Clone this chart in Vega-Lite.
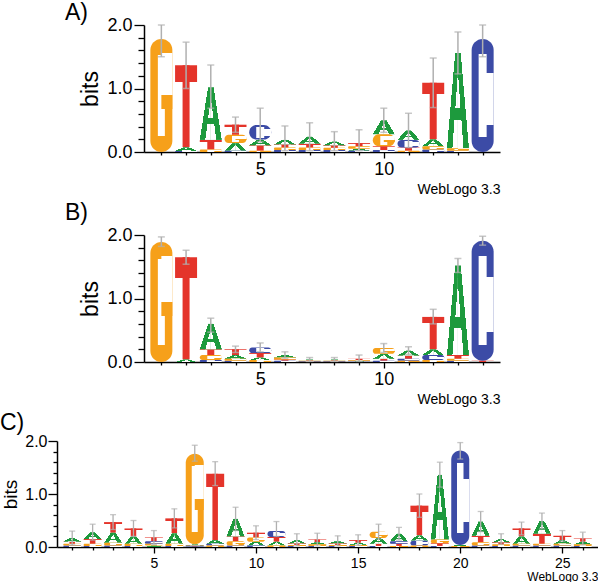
{
  "$schema": "https://vega.github.io/schema/vega-lite/v6.json",
  "background": "white",
  "padding": {"left": 0, "top": 2, "right": 0, "bottom": 0},
  "config": {
    "font": "Liberation Sans",
    "view": {"stroke": null},
    "axis": {"domainColor": "#000000", "tickColor": "#000000", "labelColor": "#000000", "titleColor": "#000000", "titleFontWeight": "normal", "domainWidth": 1.5, "tickWidth": 1.3, "grid": false, "labelFlush": false, "labelOverlap": false},
    "title": {"color": "#000000", "fontWeight": "normal"}
  },
  "datasets": {
    "letters": [
      {"p": "A", "pos": 1, "b": "G", "h": 1.78},
      {"p": "A", "pos": 2, "b": "C", "h": 0.015}, {"p": "A", "pos": 2, "b": "A", "h": 0.06}, {"p": "A", "pos": 2, "b": "T", "h": 1.29},
      {"p": "A", "pos": 3, "b": "G", "h": 0.04}, {"p": "A", "pos": 3, "b": "T", "h": 0.15}, {"p": "A", "pos": 3, "b": "A", "h": 0.83},
      {"p": "A", "pos": 4, "b": "C", "h": 0.02}, {"p": "A", "pos": 4, "b": "A", "h": 0.12}, {"p": "A", "pos": 4, "b": "G", "h": 0.13}, {"p": "A", "pos": 4, "b": "T", "h": 0.16},
      {"p": "A", "pos": 5, "b": "G", "h": 0.02}, {"p": "A", "pos": 5, "b": "T", "h": 0.085}, {"p": "A", "pos": 5, "b": "A", "h": 0.09}, {"p": "A", "pos": 5, "b": "C", "h": 0.23},
      {"p": "A", "pos": 6, "b": "C", "h": 0.03}, {"p": "A", "pos": 6, "b": "G", "h": 0.04}, {"p": "A", "pos": 6, "b": "T", "h": 0.05}, {"p": "A", "pos": 6, "b": "A", "h": 0.07},
      {"p": "A", "pos": 7, "b": "C", "h": 0.03}, {"p": "A", "pos": 7, "b": "G", "h": 0.04}, {"p": "A", "pos": 7, "b": "T", "h": 0.06}, {"p": "A", "pos": 7, "b": "A", "h": 0.11},
      {"p": "A", "pos": 8, "b": "C", "h": 0.03}, {"p": "A", "pos": 8, "b": "G", "h": 0.035}, {"p": "A", "pos": 8, "b": "T", "h": 0.04}, {"p": "A", "pos": 8, "b": "A", "h": 0.06},
      {"p": "A", "pos": 9, "b": "C", "h": 0.02}, {"p": "A", "pos": 9, "b": "A", "h": 0.03}, {"p": "A", "pos": 9, "b": "G", "h": 0.04}, {"p": "A", "pos": 9, "b": "T", "h": 0.05},
      {"p": "A", "pos": 10, "b": "C", "h": 0.03}, {"p": "A", "pos": 10, "b": "T", "h": 0.06}, {"p": "A", "pos": 10, "b": "G", "h": 0.19}, {"p": "A", "pos": 10, "b": "A", "h": 0.22},
      {"p": "A", "pos": 11, "b": "G", "h": 0.02}, {"p": "A", "pos": 11, "b": "T", "h": 0.05}, {"p": "A", "pos": 11, "b": "C", "h": 0.12}, {"p": "A", "pos": 11, "b": "A", "h": 0.15},
      {"p": "A", "pos": 12, "b": "C", "h": 0.04}, {"p": "A", "pos": 12, "b": "G", "h": 0.05}, {"p": "A", "pos": 12, "b": "A", "h": 0.11}, {"p": "A", "pos": 12, "b": "T", "h": 0.89},
      {"p": "A", "pos": 13, "b": "C", "h": 0.02}, {"p": "A", "pos": 13, "b": "G", "h": 0.04}, {"p": "A", "pos": 13, "b": "A", "h": 1.5},
      {"p": "A", "pos": 14, "b": "C", "h": 1.78},

      {"p": "B", "pos": 1, "b": "G", "h": 1.89},
      {"p": "B", "pos": 2, "b": "A", "h": 0.04}, {"p": "B", "pos": 2, "b": "T", "h": 1.61},
      {"p": "B", "pos": 3, "b": "C", "h": 0.03}, {"p": "B", "pos": 3, "b": "G", "h": 0.08}, {"p": "B", "pos": 3, "b": "T", "h": 0.09}, {"p": "B", "pos": 3, "b": "A", "h": 0.4},
      {"p": "B", "pos": 4, "b": "C", "h": 0.02}, {"p": "B", "pos": 4, "b": "G", "h": 0.03}, {"p": "B", "pos": 4, "b": "A", "h": 0.06}, {"p": "B", "pos": 4, "b": "T", "h": 0.09},
      {"p": "B", "pos": 5, "b": "G", "h": 0.03}, {"p": "B", "pos": 5, "b": "A", "h": 0.04}, {"p": "B", "pos": 5, "b": "T", "h": 0.07}, {"p": "B", "pos": 5, "b": "C", "h": 0.09},
      {"p": "B", "pos": 6, "b": "C", "h": 0.02}, {"p": "B", "pos": 6, "b": "T", "h": 0.02}, {"p": "B", "pos": 6, "b": "G", "h": 0.03}, {"p": "B", "pos": 6, "b": "A", "h": 0.04},
      {"p": "B", "pos": 7, "b": "C", "h": 0.01}, {"p": "B", "pos": 7, "b": "G", "h": 0.01}, {"p": "B", "pos": 7, "b": "T", "h": 0.01}, {"p": "B", "pos": 7, "b": "A", "h": 0.01},
      {"p": "B", "pos": 8, "b": "C", "h": 0.01}, {"p": "B", "pos": 8, "b": "G", "h": 0.01}, {"p": "B", "pos": 8, "b": "T", "h": 0.01}, {"p": "B", "pos": 8, "b": "A", "h": 0.01},
      {"p": "B", "pos": 9, "b": "A", "h": 0.01}, {"p": "B", "pos": 9, "b": "C", "h": 0.01}, {"p": "B", "pos": 9, "b": "G", "h": 0.01}, {"p": "B", "pos": 9, "b": "T", "h": 0.02},
      {"p": "B", "pos": 10, "b": "C", "h": 0.02}, {"p": "B", "pos": 10, "b": "T", "h": 0.03}, {"p": "B", "pos": 10, "b": "A", "h": 0.08}, {"p": "B", "pos": 10, "b": "G", "h": 0.09},
      {"p": "B", "pos": 11, "b": "G", "h": 0.02}, {"p": "B", "pos": 11, "b": "C", "h": 0.03}, {"p": "B", "pos": 11, "b": "T", "h": 0.05}, {"p": "B", "pos": 11, "b": "A", "h": 0.08},
      {"p": "B", "pos": 12, "b": "G", "h": 0.03}, {"p": "B", "pos": 12, "b": "C", "h": 0.08}, {"p": "B", "pos": 12, "b": "A", "h": 0.09}, {"p": "B", "pos": 12, "b": "T", "h": 0.51},
      {"p": "B", "pos": 13, "b": "C", "h": 0.02}, {"p": "B", "pos": 13, "b": "G", "h": 0.03}, {"p": "B", "pos": 13, "b": "T", "h": 0.06}, {"p": "B", "pos": 13, "b": "A", "h": 1.41},
      {"p": "B", "pos": 14, "b": "T", "h": 0.02}, {"p": "B", "pos": 14, "b": "C", "h": 1.89},

      {"p": "C", "pos": 1, "b": "C", "h": 0.03}, {"p": "C", "pos": 1, "b": "G", "h": 0.03}, {"p": "C", "pos": 1, "b": "T", "h": 0.04}, {"p": "C", "pos": 1, "b": "A", "h": 0.07},
      {"p": "C", "pos": 2, "b": "C", "h": 0.02}, {"p": "C", "pos": 2, "b": "G", "h": 0.04}, {"p": "C", "pos": 2, "b": "T", "h": 0.09}, {"p": "C", "pos": 2, "b": "A", "h": 0.13},
      {"p": "C", "pos": 3, "b": "C", "h": 0.03}, {"p": "C", "pos": 3, "b": "G", "h": 0.05}, {"p": "C", "pos": 3, "b": "A", "h": 0.19}, {"p": "C", "pos": 3, "b": "T", "h": 0.2},
      {"p": "C", "pos": 4, "b": "C", "h": 0.02}, {"p": "C", "pos": 4, "b": "G", "h": 0.04}, {"p": "C", "pos": 4, "b": "A", "h": 0.14}, {"p": "C", "pos": 4, "b": "T", "h": 0.15},
      {"p": "C", "pos": 5, "b": "A", "h": 0.03}, {"p": "C", "pos": 5, "b": "G", "h": 0.03}, {"p": "C", "pos": 5, "b": "C", "h": 0.05}, {"p": "C", "pos": 5, "b": "T", "h": 0.07},
      {"p": "C", "pos": 6, "b": "C", "h": 0.02}, {"p": "C", "pos": 6, "b": "G", "h": 0.04}, {"p": "C", "pos": 6, "b": "A", "h": 0.2}, {"p": "C", "pos": 6, "b": "T", "h": 0.28},
      {"p": "C", "pos": 7, "b": "C", "h": 0.01}, {"p": "C", "pos": 7, "b": "T", "h": 0.02}, {"p": "C", "pos": 7, "b": "A", "h": 0.02}, {"p": "C", "pos": 7, "b": "G", "h": 1.71},
      {"p": "C", "pos": 8, "b": "G", "h": 0.03}, {"p": "C", "pos": 8, "b": "C", "h": 0.03}, {"p": "C", "pos": 8, "b": "A", "h": 0.07}, {"p": "C", "pos": 8, "b": "T", "h": 1.25},
      {"p": "C", "pos": 9, "b": "C", "h": 0.03}, {"p": "C", "pos": 9, "b": "G", "h": 0.08}, {"p": "C", "pos": 9, "b": "T", "h": 0.09}, {"p": "C", "pos": 9, "b": "A", "h": 0.33},
      {"p": "C", "pos": 10, "b": "C", "h": 0.03}, {"p": "C", "pos": 10, "b": "A", "h": 0.07}, {"p": "C", "pos": 10, "b": "G", "h": 0.08}, {"p": "C", "pos": 10, "b": "T", "h": 0.09},
      {"p": "C", "pos": 11, "b": "G", "h": 0.03}, {"p": "C", "pos": 11, "b": "A", "h": 0.07}, {"p": "C", "pos": 11, "b": "T", "h": 0.09}, {"p": "C", "pos": 11, "b": "C", "h": 0.11},
      {"p": "C", "pos": 12, "b": "C", "h": 0.02}, {"p": "C", "pos": 12, "b": "G", "h": 0.02}, {"p": "C", "pos": 12, "b": "T", "h": 0.03}, {"p": "C", "pos": 12, "b": "A", "h": 0.06},
      {"p": "C", "pos": 13, "b": "C", "h": 0.02}, {"p": "C", "pos": 13, "b": "G", "h": 0.03}, {"p": "C", "pos": 13, "b": "A", "h": 0.04}, {"p": "C", "pos": 13, "b": "T", "h": 0.05},
      {"p": "C", "pos": 14, "b": "C", "h": 0.02}, {"p": "C", "pos": 14, "b": "G", "h": 0.02}, {"p": "C", "pos": 14, "b": "T", "h": 0.03}, {"p": "C", "pos": 14, "b": "A", "h": 0.04},
      {"p": "C", "pos": 15, "b": "C", "h": 0.02}, {"p": "C", "pos": 15, "b": "G", "h": 0.02}, {"p": "C", "pos": 15, "b": "A", "h": 0.04}, {"p": "C", "pos": 15, "b": "T", "h": 0.05},
      {"p": "C", "pos": 16, "b": "C", "h": 0.02}, {"p": "C", "pos": 16, "b": "T", "h": 0.04}, {"p": "C", "pos": 16, "b": "A", "h": 0.11}, {"p": "C", "pos": 16, "b": "G", "h": 0.12},
      {"p": "C", "pos": 17, "b": "G", "h": 0.02}, {"p": "C", "pos": 17, "b": "T", "h": 0.04}, {"p": "C", "pos": 17, "b": "C", "h": 0.05}, {"p": "C", "pos": 17, "b": "A", "h": 0.14},
      {"p": "C", "pos": 18, "b": "G", "h": 0.03}, {"p": "C", "pos": 18, "b": "C", "h": 0.09}, {"p": "C", "pos": 18, "b": "A", "h": 0.1}, {"p": "C", "pos": 18, "b": "T", "h": 0.56},
      {"p": "C", "pos": 19, "b": "C", "h": 0.02}, {"p": "C", "pos": 19, "b": "T", "h": 0.05}, {"p": "C", "pos": 19, "b": "G", "h": 0.07}, {"p": "C", "pos": 19, "b": "A", "h": 1.22},
      {"p": "C", "pos": 20, "b": "G", "h": 0.02}, {"p": "C", "pos": 20, "b": "A", "h": 0.02}, {"p": "C", "pos": 20, "b": "C", "h": 1.78},
      {"p": "C", "pos": 21, "b": "C", "h": 0.03}, {"p": "C", "pos": 21, "b": "G", "h": 0.06}, {"p": "C", "pos": 21, "b": "T", "h": 0.12}, {"p": "C", "pos": 21, "b": "A", "h": 0.27},
      {"p": "C", "pos": 22, "b": "C", "h": 0.02}, {"p": "C", "pos": 22, "b": "G", "h": 0.03}, {"p": "C", "pos": 22, "b": "T", "h": 0.04}, {"p": "C", "pos": 22, "b": "A", "h": 0.06},
      {"p": "C", "pos": 23, "b": "C", "h": 0.03}, {"p": "C", "pos": 23, "b": "G", "h": 0.03}, {"p": "C", "pos": 23, "b": "A", "h": 0.14}, {"p": "C", "pos": 23, "b": "T", "h": 0.15},
      {"p": "C", "pos": 24, "b": "C", "h": 0.03}, {"p": "C", "pos": 24, "b": "G", "h": 0.03}, {"p": "C", "pos": 24, "b": "T", "h": 0.19}, {"p": "C", "pos": 24, "b": "A", "h": 0.24},
      {"p": "C", "pos": 25, "b": "C", "h": 0.03}, {"p": "C", "pos": 25, "b": "G", "h": 0.03}, {"p": "C", "pos": 25, "b": "A", "h": 0.07}, {"p": "C", "pos": 25, "b": "T", "h": 0.08},
      {"p": "C", "pos": 26, "b": "C", "h": 0.02}, {"p": "C", "pos": 26, "b": "G", "h": 0.03}, {"p": "C", "pos": 26, "b": "A", "h": 0.05}, {"p": "C", "pos": 26, "b": "T", "h": 0.06}
    ],
    "err": [
      {"p": "A", "pos": 1, "lo": 1.5, "hi": 2.0}, {"p": "A", "pos": 2, "lo": 1.0, "hi": 1.73}, {"p": "A", "pos": 3, "lo": 0.69, "hi": 1.37},
      {"p": "A", "pos": 4, "lo": 0.31, "hi": 0.55}, {"p": "A", "pos": 5, "lo": 0.16, "hi": 0.69}, {"p": "A", "pos": 6, "lo": 0.02, "hi": 0.41},
      {"p": "A", "pos": 7, "lo": 0.02, "hi": 0.46}, {"p": "A", "pos": 8, "lo": 0.02, "hi": 0.32}, {"p": "A", "pos": 9, "lo": 0.02, "hi": 0.35},
      {"p": "A", "pos": 10, "lo": 0.31, "hi": 0.69}, {"p": "A", "pos": 11, "lo": 0.07, "hi": 0.61}, {"p": "A", "pos": 12, "lo": 0.7, "hi": 1.48},
      {"p": "A", "pos": 13, "lo": 1.23, "hi": 1.89}, {"p": "A", "pos": 14, "lo": 1.5, "hi": 2.0},
      {"p": "B", "pos": 1, "lo": 1.82, "hi": 1.97}, {"p": "B", "pos": 2, "lo": 1.54, "hi": 1.76}, {"p": "B", "pos": 3, "lo": 0.47, "hi": 0.69},
      {"p": "B", "pos": 4, "lo": 0.15, "hi": 0.25}, {"p": "B", "pos": 5, "lo": 0.16, "hi": 0.3}, {"p": "B", "pos": 6, "lo": 0.06, "hi": 0.16},
      {"p": "B", "pos": 7, "lo": 0.01, "hi": 0.07}, {"p": "B", "pos": 8, "lo": 0.01, "hi": 0.07}, {"p": "B", "pos": 9, "lo": 0.01, "hi": 0.11},
      {"p": "B", "pos": 10, "lo": 0.15, "hi": 0.29}, {"p": "B", "pos": 11, "lo": 0.12, "hi": 0.24}, {"p": "B", "pos": 12, "lo": 0.6, "hi": 0.83},
      {"p": "B", "pos": 13, "lo": 1.41, "hi": 1.63}, {"p": "B", "pos": 14, "lo": 1.84, "hi": 1.98},
      {"p": "C", "pos": 1, "lo": 0.04, "hi": 0.3}, {"p": "C", "pos": 2, "lo": 0.13, "hi": 0.43}, {"p": "C", "pos": 3, "lo": 0.33, "hi": 0.61},
      {"p": "C", "pos": 4, "lo": 0.2, "hi": 0.5}, {"p": "C", "pos": 5, "lo": 0.05, "hi": 0.31}, {"p": "C", "pos": 6, "lo": 0.36, "hi": 0.72},
      {"p": "C", "pos": 7, "lo": 1.62, "hi": 1.92}, {"p": "C", "pos": 8, "lo": 1.16, "hi": 1.61}, {"p": "C", "pos": 9, "lo": 0.31, "hi": 0.75},
      {"p": "C", "pos": 10, "lo": 0.14, "hi": 0.4}, {"p": "C", "pos": 11, "lo": 0.2, "hi": 0.48}, {"p": "C", "pos": 12, "lo": 0.02, "hi": 0.25},
      {"p": "C", "pos": 13, "lo": 0.02, "hi": 0.26}, {"p": "C", "pos": 14, "lo": 0.02, "hi": 0.21}, {"p": "C", "pos": 15, "lo": 0.03, "hi": 0.23},
      {"p": "C", "pos": 16, "lo": 0.15, "hi": 0.43}, {"p": "C", "pos": 17, "lo": 0.13, "hi": 0.37}, {"p": "C", "pos": 18, "lo": 0.56, "hi": 1.0},
      {"p": "C", "pos": 19, "lo": 1.13, "hi": 1.6}, {"p": "C", "pos": 20, "lo": 1.66, "hi": 1.97}, {"p": "C", "pos": 21, "lo": 0.29, "hi": 0.67},
      {"p": "C", "pos": 22, "lo": 0.05, "hi": 0.25}, {"p": "C", "pos": 23, "lo": 0.23, "hi": 0.47}, {"p": "C", "pos": 24, "lo": 0.34, "hi": 0.64},
      {"p": "C", "pos": 25, "lo": 0.11, "hi": 0.31}, {"p": "C", "pos": 26, "lo": 0.04, "hi": 0.28}
    ]
  },
  "concat": [
    {
      "concat": [
        {"width": 1, "height": 1, "data": {"values": []}, "mark": {"type": "point", "opacity": 0}},
        {
          "width": 356, "height": 127,
          "title": {"text": "A)", "anchor": "start", "frame": "group", "dx": -79, "fontSize": 23, "offset": -9},
          "layer": [
            {
              "data": {"name": "letters"},
              "transform": [
                {"filter": "datum.p === 'A'"},
                {"stack": "h", "groupby": ["pos"], "sort": [{"field": "h", "order": "ascending"}], "as": ["y0", "y1"]}
              ],
              "encoding": {
                "x": {"field": "pos", "type": "quantitative", "title": "WebLogo 3.3", "scale": {"domain": [0.5, 14.5], "nice": false, "zero": false},
                  "axis": {"values": [1,2,3,4,5,6,7,8,9,10,11,12,13,14], "tickCount": 100, "labelOverlap": false, "labelExpr": "datum.value % 5 === 0 ? format(datum.value, 'd') : ''", "tickSize": {"condition": {"test": "datum.value % 5 === 0", "value": 6}, "value": 3}, "labelFontSize": 18, "labelPadding": 2, "titleFontSize": 14, "titleAnchor": "end", "titlePadding": 4}},
                "y": {"field": "y0", "type": "quantitative", "title": "bits", "scale": {"domain": [0, 2], "nice": false},
                  "axis": {"values": [0,0.2,0.4,0.6,0.8,1,1.2,1.4,1.6,1.8,2], "tickCount": 100, "labelOverlap": false, "labelExpr": "datum.value % 1 === 0 ? format(datum.value, '.1f') : ''", "tickSize": {"condition": {"test": "datum.value % 1 === 0", "value": 10}, "value": 6}, "labelFontSize": 18, "labelPadding": 2, "titleFontSize": 23, "titlePadding": 4}},
                "y2": {"field": "y1"}
              },
              "layer": [
                {"transform": [{"filter": "datum.b === 'T'"}], "mark": {"type": "bar", "size": 7, "color": "#E4342A"}},
                {"transform": [{"filter": "datum.b === 'T'"}], "mark": {"type": "bar", "size": 22, "color": {"gradient": "linear", "x1": 0, "y1": 0, "x2": 0, "y2": 1, "stops": [{"offset": 0, "color": "#E4342A"}, {"offset": 0.2, "color": "#E4342A"}, {"offset": 0.2, "color": "rgba(255,255,255,0)"}, {"offset": 1, "color": "rgba(255,255,255,0)"}]}}},
                {"transform": [{"filter": "datum.b === 'A'"}], "mark": {"type": "bar", "size": 11, "xOffset": -5.5, "color": {"gradient": "linear", "x1": -1, "y1": 0.25, "x2": 1, "y2": 1.75, "stops": [{"offset": 0, "color": "rgba(255,255,255,0)"}, {"offset": 0.5, "color": "rgba(255,255,255,0)"}, {"offset": 0.5, "color": "#1D9A3D"}, {"offset": 1, "color": "#1D9A3D"}]}}},
                {"transform": [{"filter": "datum.b === 'A'"}], "mark": {"type": "bar", "size": 11, "xOffset": 5.5, "color": {"gradient": "linear", "x1": 2, "y1": 0.25, "x2": 0, "y2": 1.75, "stops": [{"offset": 0, "color": "rgba(255,255,255,0)"}, {"offset": 0.5, "color": "rgba(255,255,255,0)"}, {"offset": 0.5, "color": "#1D9A3D"}, {"offset": 1, "color": "#1D9A3D"}]}}},
                {"transform": [{"filter": "datum.b === 'A'"}], "mark": {"type": "bar", "size": 11, "xOffset": -5.5, "color": {"gradient": "linear", "x1": -0.3, "y1": 0.5, "x2": 1.3, "y2": 1.5, "stops": [{"offset": 0, "color": "rgba(255,255,255,0)"}, {"offset": 0.5, "color": "rgba(255,255,255,0)"}, {"offset": 0.5, "color": "#FFFFFF"}, {"offset": 1, "color": "#FFFFFF"}]}}},
                {"transform": [{"filter": "datum.b === 'A'"}], "mark": {"type": "bar", "size": 11, "xOffset": 5.5, "color": {"gradient": "linear", "x1": 1.3, "y1": 0.5, "x2": -0.3, "y2": 1.5, "stops": [{"offset": 0, "color": "rgba(255,255,255,0)"}, {"offset": 0.5, "color": "rgba(255,255,255,0)"}, {"offset": 0.5, "color": "#FFFFFF"}, {"offset": 1, "color": "#FFFFFF"}]}}},
                {"transform": [{"filter": "datum.b === 'A'"}], "mark": {"type": "bar", "size": 13, "color": {"gradient": "linear", "x1": 0, "y1": 0, "x2": 0, "y2": 1, "stops": [{"offset": 0, "color": "rgba(255,255,255,0)"}, {"offset": 0.58, "color": "rgba(255,255,255,0)"}, {"offset": 0.58, "color": "#1D9A3D"}, {"offset": 0.7, "color": "#1D9A3D"}, {"offset": 0.7, "color": "rgba(255,255,255,0)"}, {"offset": 1, "color": "rgba(255,255,255,0)"}]}}},
                {"transform": [{"filter": "datum.b === 'C'"}], "mark": {"type": "bar", "size": 22, "cornerRadius": 11, "color": "#3C4BA6"}},
                {"transform": [{"filter": "datum.b === 'C'"}], "mark": {"type": "bar", "size": 8, "color": {"gradient": "linear", "x1": 0, "y1": 0, "x2": 0, "y2": 1, "stops": [{"offset": 0, "color": "rgba(255,255,255,0)"}, {"offset": 0.13, "color": "rgba(255,255,255,0)"}, {"offset": 0.13, "color": "#FFFFFF"}, {"offset": 0.87, "color": "#FFFFFF"}, {"offset": 0.87, "color": "rgba(255,255,255,0)"}, {"offset": 1, "color": "rgba(255,255,255,0)"}]}}},
                {"transform": [{"filter": "datum.b === 'C'"}], "mark": {"type": "bar", "size": 11, "xOffset": 5.5, "color": {"gradient": "linear", "x1": 0, "y1": 0, "x2": 0, "y2": 1, "stops": [{"offset": 0, "color": "rgba(255,255,255,0)"}, {"offset": 0.3, "color": "rgba(255,255,255,0)"}, {"offset": 0.3, "color": "#FFFFFF"}, {"offset": 0.76, "color": "#FFFFFF"}, {"offset": 0.76, "color": "rgba(255,255,255,0)"}, {"offset": 1, "color": "rgba(255,255,255,0)"}]}}},
                {"transform": [{"filter": "datum.b === 'G'"}], "mark": {"type": "bar", "size": 22, "cornerRadius": 11, "color": "#F6A01A"}},
                {"transform": [{"filter": "datum.b === 'G'"}], "mark": {"type": "bar", "size": 7, "color": {"gradient": "linear", "x1": 0, "y1": 0, "x2": 0, "y2": 1, "stops": [{"offset": 0, "color": "rgba(255,255,255,0)"}, {"offset": 0.14, "color": "rgba(255,255,255,0)"}, {"offset": 0.14, "color": "#FFFFFF"}, {"offset": 0.86, "color": "#FFFFFF"}, {"offset": 0.86, "color": "rgba(255,255,255,0)"}, {"offset": 1, "color": "rgba(255,255,255,0)"}]}}},
                {"transform": [{"filter": "datum.b === 'G'"}], "mark": {"type": "bar", "size": 11, "xOffset": 5.5, "color": {"gradient": "linear", "x1": 0, "y1": 0, "x2": 0, "y2": 1, "stops": [{"offset": 0, "color": "rgba(255,255,255,0)"}, {"offset": 0.12, "color": "rgba(255,255,255,0)"}, {"offset": 0.12, "color": "#FFFFFF"}, {"offset": 0.5, "color": "#FFFFFF"}, {"offset": 0.5, "color": "rgba(255,255,255,0)"}, {"offset": 1, "color": "rgba(255,255,255,0)"}]}}},
                {"transform": [{"filter": "datum.b === 'G'"}], "mark": {"type": "bar", "size": 11, "xOffset": 5.5, "color": {"gradient": "linear", "x1": 0, "y1": 0, "x2": 0, "y2": 1, "stops": [{"offset": 0, "color": "rgba(255,255,255,0)"}, {"offset": 0.5, "color": "rgba(255,255,255,0)"}, {"offset": 0.5, "color": "#F6A01A"}, {"offset": 0.62, "color": "#F6A01A"}, {"offset": 0.62, "color": "rgba(255,255,255,0)"}, {"offset": 1, "color": "rgba(255,255,255,0)"}]}}}
              ]
            },
            {
              "data": {"name": "err"},
              "transform": [{"filter": "datum.p === 'A'"}],
              "encoding": {"x": {"field": "pos", "type": "quantitative", "title": "WebLogo 3.3"}},
              "layer": [
                {"mark": {"type": "rule", "color": "#B0B0B0", "strokeWidth": 1.5}, "encoding": {"y": {"field": "lo", "type": "quantitative", "title": "bits"}, "y2": {"field": "hi"}}},
                {"mark": {"type": "tick", "orient": "horizontal", "color": "#B0B0B0", "size": 7, "thickness": 1.5}, "encoding": {"y": {"field": "hi", "type": "quantitative", "title": "bits"}}},
                {"mark": {"type": "tick", "orient": "horizontal", "color": "#B0B0B0", "size": 7, "thickness": 1.5}, "encoding": {"y": {"field": "lo", "type": "quantitative", "title": "bits"}}}
              ]
            }
          ]
        }
      ],
      "columns": 2, "spacing": 7, "align": "none"
    },
    {
      "concat": [
        {"width": 1, "height": 1, "data": {"values": []}, "mark": {"type": "point", "opacity": 0}},
        {
          "width": 356, "height": 127,
          "title": {"text": "B)", "anchor": "start", "frame": "group", "dx": -79, "fontSize": 23, "offset": 1},
          "layer": [
            {
              "data": {"name": "letters"},
              "transform": [
                {"filter": "datum.p === 'B'"},
                {"stack": "h", "groupby": ["pos"], "sort": [{"field": "h", "order": "ascending"}], "as": ["y0", "y1"]}
              ],
              "encoding": {
                "x": {"field": "pos", "type": "quantitative", "title": "WebLogo 3.3", "scale": {"domain": [0.5, 14.5], "nice": false, "zero": false},
                  "axis": {"values": [1,2,3,4,5,6,7,8,9,10,11,12,13,14], "tickCount": 100, "labelOverlap": false, "labelExpr": "datum.value % 5 === 0 ? format(datum.value, 'd') : ''", "tickSize": {"condition": {"test": "datum.value % 5 === 0", "value": 6}, "value": 3}, "labelFontSize": 18, "labelPadding": 2, "titleFontSize": 14, "titleAnchor": "end", "titlePadding": 4}},
                "y": {"field": "y0", "type": "quantitative", "title": "bits", "scale": {"domain": [0, 2], "nice": false},
                  "axis": {"values": [0,0.2,0.4,0.6,0.8,1,1.2,1.4,1.6,1.8,2], "tickCount": 100, "labelOverlap": false, "labelExpr": "datum.value % 1 === 0 ? format(datum.value, '.1f') : ''", "tickSize": {"condition": {"test": "datum.value % 1 === 0", "value": 10}, "value": 6}, "labelFontSize": 18, "labelPadding": 2, "titleFontSize": 23, "titlePadding": 4}},
                "y2": {"field": "y1"}
              },
              "layer": [
                {"transform": [{"filter": "datum.b === 'T'"}], "mark": {"type": "bar", "size": 7, "color": "#E4342A"}},
                {"transform": [{"filter": "datum.b === 'T'"}], "mark": {"type": "bar", "size": 22, "color": {"gradient": "linear", "x1": 0, "y1": 0, "x2": 0, "y2": 1, "stops": [{"offset": 0, "color": "#E4342A"}, {"offset": 0.2, "color": "#E4342A"}, {"offset": 0.2, "color": "rgba(255,255,255,0)"}, {"offset": 1, "color": "rgba(255,255,255,0)"}]}}},
                {"transform": [{"filter": "datum.b === 'A'"}], "mark": {"type": "bar", "size": 11, "xOffset": -5.5, "color": {"gradient": "linear", "x1": -1, "y1": 0.25, "x2": 1, "y2": 1.75, "stops": [{"offset": 0, "color": "rgba(255,255,255,0)"}, {"offset": 0.5, "color": "rgba(255,255,255,0)"}, {"offset": 0.5, "color": "#1D9A3D"}, {"offset": 1, "color": "#1D9A3D"}]}}},
                {"transform": [{"filter": "datum.b === 'A'"}], "mark": {"type": "bar", "size": 11, "xOffset": 5.5, "color": {"gradient": "linear", "x1": 2, "y1": 0.25, "x2": 0, "y2": 1.75, "stops": [{"offset": 0, "color": "rgba(255,255,255,0)"}, {"offset": 0.5, "color": "rgba(255,255,255,0)"}, {"offset": 0.5, "color": "#1D9A3D"}, {"offset": 1, "color": "#1D9A3D"}]}}},
                {"transform": [{"filter": "datum.b === 'A'"}], "mark": {"type": "bar", "size": 11, "xOffset": -5.5, "color": {"gradient": "linear", "x1": -0.3, "y1": 0.5, "x2": 1.3, "y2": 1.5, "stops": [{"offset": 0, "color": "rgba(255,255,255,0)"}, {"offset": 0.5, "color": "rgba(255,255,255,0)"}, {"offset": 0.5, "color": "#FFFFFF"}, {"offset": 1, "color": "#FFFFFF"}]}}},
                {"transform": [{"filter": "datum.b === 'A'"}], "mark": {"type": "bar", "size": 11, "xOffset": 5.5, "color": {"gradient": "linear", "x1": 1.3, "y1": 0.5, "x2": -0.3, "y2": 1.5, "stops": [{"offset": 0, "color": "rgba(255,255,255,0)"}, {"offset": 0.5, "color": "rgba(255,255,255,0)"}, {"offset": 0.5, "color": "#FFFFFF"}, {"offset": 1, "color": "#FFFFFF"}]}}},
                {"transform": [{"filter": "datum.b === 'A'"}], "mark": {"type": "bar", "size": 13, "color": {"gradient": "linear", "x1": 0, "y1": 0, "x2": 0, "y2": 1, "stops": [{"offset": 0, "color": "rgba(255,255,255,0)"}, {"offset": 0.58, "color": "rgba(255,255,255,0)"}, {"offset": 0.58, "color": "#1D9A3D"}, {"offset": 0.7, "color": "#1D9A3D"}, {"offset": 0.7, "color": "rgba(255,255,255,0)"}, {"offset": 1, "color": "rgba(255,255,255,0)"}]}}},
                {"transform": [{"filter": "datum.b === 'C'"}], "mark": {"type": "bar", "size": 22, "cornerRadius": 11, "color": "#3C4BA6"}},
                {"transform": [{"filter": "datum.b === 'C'"}], "mark": {"type": "bar", "size": 8, "color": {"gradient": "linear", "x1": 0, "y1": 0, "x2": 0, "y2": 1, "stops": [{"offset": 0, "color": "rgba(255,255,255,0)"}, {"offset": 0.13, "color": "rgba(255,255,255,0)"}, {"offset": 0.13, "color": "#FFFFFF"}, {"offset": 0.87, "color": "#FFFFFF"}, {"offset": 0.87, "color": "rgba(255,255,255,0)"}, {"offset": 1, "color": "rgba(255,255,255,0)"}]}}},
                {"transform": [{"filter": "datum.b === 'C'"}], "mark": {"type": "bar", "size": 11, "xOffset": 5.5, "color": {"gradient": "linear", "x1": 0, "y1": 0, "x2": 0, "y2": 1, "stops": [{"offset": 0, "color": "rgba(255,255,255,0)"}, {"offset": 0.3, "color": "rgba(255,255,255,0)"}, {"offset": 0.3, "color": "#FFFFFF"}, {"offset": 0.76, "color": "#FFFFFF"}, {"offset": 0.76, "color": "rgba(255,255,255,0)"}, {"offset": 1, "color": "rgba(255,255,255,0)"}]}}},
                {"transform": [{"filter": "datum.b === 'G'"}], "mark": {"type": "bar", "size": 22, "cornerRadius": 11, "color": "#F6A01A"}},
                {"transform": [{"filter": "datum.b === 'G'"}], "mark": {"type": "bar", "size": 7, "color": {"gradient": "linear", "x1": 0, "y1": 0, "x2": 0, "y2": 1, "stops": [{"offset": 0, "color": "rgba(255,255,255,0)"}, {"offset": 0.14, "color": "rgba(255,255,255,0)"}, {"offset": 0.14, "color": "#FFFFFF"}, {"offset": 0.86, "color": "#FFFFFF"}, {"offset": 0.86, "color": "rgba(255,255,255,0)"}, {"offset": 1, "color": "rgba(255,255,255,0)"}]}}},
                {"transform": [{"filter": "datum.b === 'G'"}], "mark": {"type": "bar", "size": 11, "xOffset": 5.5, "color": {"gradient": "linear", "x1": 0, "y1": 0, "x2": 0, "y2": 1, "stops": [{"offset": 0, "color": "rgba(255,255,255,0)"}, {"offset": 0.12, "color": "rgba(255,255,255,0)"}, {"offset": 0.12, "color": "#FFFFFF"}, {"offset": 0.5, "color": "#FFFFFF"}, {"offset": 0.5, "color": "rgba(255,255,255,0)"}, {"offset": 1, "color": "rgba(255,255,255,0)"}]}}},
                {"transform": [{"filter": "datum.b === 'G'"}], "mark": {"type": "bar", "size": 11, "xOffset": 5.5, "color": {"gradient": "linear", "x1": 0, "y1": 0, "x2": 0, "y2": 1, "stops": [{"offset": 0, "color": "rgba(255,255,255,0)"}, {"offset": 0.5, "color": "rgba(255,255,255,0)"}, {"offset": 0.5, "color": "#F6A01A"}, {"offset": 0.62, "color": "#F6A01A"}, {"offset": 0.62, "color": "rgba(255,255,255,0)"}, {"offset": 1, "color": "rgba(255,255,255,0)"}]}}}
              ]
            },
            {
              "data": {"name": "err"},
              "transform": [{"filter": "datum.p === 'B'"}],
              "encoding": {"x": {"field": "pos", "type": "quantitative", "title": "WebLogo 3.3"}},
              "layer": [
                {"mark": {"type": "rule", "color": "#B0B0B0", "strokeWidth": 1.5}, "encoding": {"y": {"field": "lo", "type": "quantitative", "title": "bits"}, "y2": {"field": "hi"}}},
                {"mark": {"type": "tick", "orient": "horizontal", "color": "#B0B0B0", "size": 7, "thickness": 1.5}, "encoding": {"y": {"field": "hi", "type": "quantitative", "title": "bits"}}},
                {"mark": {"type": "tick", "orient": "horizontal", "color": "#B0B0B0", "size": 7, "thickness": 1.5}, "encoding": {"y": {"field": "lo", "type": "quantitative", "title": "bits"}}}
              ]
            }
          ]
        }
      ],
      "columns": 2, "spacing": 7, "align": "none"
    },
    {
      "width": 541, "height": 106,
      "title": {"text": "C)", "anchor": "start", "frame": "group", "dx": -57, "fontSize": 23, "offset": -2},
      "layer": [
        {
          "data": {"name": "letters"},
          "transform": [
            {"filter": "datum.p === 'C'"},
            {"stack": "h", "groupby": ["pos"], "sort": [{"field": "h", "order": "ascending"}], "as": ["y0", "y1"]}
          ],
          "encoding": {
            "x": {"field": "pos", "type": "quantitative", "title": "WebLogo 3.3", "scale": {"domain": [0.5, 26.5], "nice": false, "zero": false},
              "axis": {"values": [1,2,3,4,5,6,7,8,9,10,11,12,13,14,15,16,17,18,19,20,21,22,23,24,25,26], "tickCount": 100, "labelOverlap": false, "labelExpr": "datum.value % 5 === 0 ? format(datum.value, 'd') : ''", "tickSize": {"condition": {"test": "datum.value % 5 === 0", "value": 6}, "value": 3}, "labelFontSize": 14, "labelPadding": 3, "titleFontSize": 12, "titleAnchor": "end", "titlePadding": 1}},
            "y": {"field": "y0", "type": "quantitative", "title": "bits", "scale": {"domain": [0, 2], "nice": false},
              "axis": {"values": [0,0.2,0.4,0.6,0.8,1,1.2,1.4,1.6,1.8,2], "tickCount": 100, "labelOverlap": false, "labelExpr": "datum.value % 1 === 0 ? format(datum.value, '.1f') : ''", "tickSize": {"condition": {"test": "datum.value % 1 === 0", "value": 9}, "value": 4}, "labelFontSize": 16, "labelPadding": 1, "titleFontSize": 19, "titlePadding": 4}},
            "y2": {"field": "y1"}
          },
          "layer": [
            {"transform": [{"filter": "datum.b === 'T'"}], "mark": {"type": "bar", "size": 5.5, "color": "#E4342A"}},
            {"transform": [{"filter": "datum.b === 'T'"}], "mark": {"type": "bar", "size": 18, "color": {"gradient": "linear", "x1": 0, "y1": 0, "x2": 0, "y2": 1, "stops": [{"offset": 0, "color": "#E4342A"}, {"offset": 0.2, "color": "#E4342A"}, {"offset": 0.2, "color": "rgba(255,255,255,0)"}, {"offset": 1, "color": "rgba(255,255,255,0)"}]}}},
            {"transform": [{"filter": "datum.b === 'A'"}], "mark": {"type": "bar", "size": 9, "xOffset": -4.5, "color": {"gradient": "linear", "x1": -1, "y1": 0.25, "x2": 1, "y2": 1.75, "stops": [{"offset": 0, "color": "rgba(255,255,255,0)"}, {"offset": 0.5, "color": "rgba(255,255,255,0)"}, {"offset": 0.5, "color": "#1D9A3D"}, {"offset": 1, "color": "#1D9A3D"}]}}},
            {"transform": [{"filter": "datum.b === 'A'"}], "mark": {"type": "bar", "size": 9, "xOffset": 4.5, "color": {"gradient": "linear", "x1": 2, "y1": 0.25, "x2": 0, "y2": 1.75, "stops": [{"offset": 0, "color": "rgba(255,255,255,0)"}, {"offset": 0.5, "color": "rgba(255,255,255,0)"}, {"offset": 0.5, "color": "#1D9A3D"}, {"offset": 1, "color": "#1D9A3D"}]}}},
            {"transform": [{"filter": "datum.b === 'A'"}], "mark": {"type": "bar", "size": 9, "xOffset": -4.5, "color": {"gradient": "linear", "x1": -0.3, "y1": 0.5, "x2": 1.3, "y2": 1.5, "stops": [{"offset": 0, "color": "rgba(255,255,255,0)"}, {"offset": 0.5, "color": "rgba(255,255,255,0)"}, {"offset": 0.5, "color": "#FFFFFF"}, {"offset": 1, "color": "#FFFFFF"}]}}},
            {"transform": [{"filter": "datum.b === 'A'"}], "mark": {"type": "bar", "size": 9, "xOffset": 4.5, "color": {"gradient": "linear", "x1": 1.3, "y1": 0.5, "x2": -0.3, "y2": 1.5, "stops": [{"offset": 0, "color": "rgba(255,255,255,0)"}, {"offset": 0.5, "color": "rgba(255,255,255,0)"}, {"offset": 0.5, "color": "#FFFFFF"}, {"offset": 1, "color": "#FFFFFF"}]}}},
            {"transform": [{"filter": "datum.b === 'A'"}], "mark": {"type": "bar", "size": 10.5, "color": {"gradient": "linear", "x1": 0, "y1": 0, "x2": 0, "y2": 1, "stops": [{"offset": 0, "color": "rgba(255,255,255,0)"}, {"offset": 0.58, "color": "rgba(255,255,255,0)"}, {"offset": 0.58, "color": "#1D9A3D"}, {"offset": 0.7, "color": "#1D9A3D"}, {"offset": 0.7, "color": "rgba(255,255,255,0)"}, {"offset": 1, "color": "rgba(255,255,255,0)"}]}}},
            {"transform": [{"filter": "datum.b === 'C'"}], "mark": {"type": "bar", "size": 18, "cornerRadius": 9, "color": "#3C4BA6"}},
            {"transform": [{"filter": "datum.b === 'C'"}], "mark": {"type": "bar", "size": 6.5, "color": {"gradient": "linear", "x1": 0, "y1": 0, "x2": 0, "y2": 1, "stops": [{"offset": 0, "color": "rgba(255,255,255,0)"}, {"offset": 0.13, "color": "rgba(255,255,255,0)"}, {"offset": 0.13, "color": "#FFFFFF"}, {"offset": 0.87, "color": "#FFFFFF"}, {"offset": 0.87, "color": "rgba(255,255,255,0)"}, {"offset": 1, "color": "rgba(255,255,255,0)"}]}}},
            {"transform": [{"filter": "datum.b === 'C'"}], "mark": {"type": "bar", "size": 9, "xOffset": 4.5, "color": {"gradient": "linear", "x1": 0, "y1": 0, "x2": 0, "y2": 1, "stops": [{"offset": 0, "color": "rgba(255,255,255,0)"}, {"offset": 0.3, "color": "rgba(255,255,255,0)"}, {"offset": 0.3, "color": "#FFFFFF"}, {"offset": 0.76, "color": "#FFFFFF"}, {"offset": 0.76, "color": "rgba(255,255,255,0)"}, {"offset": 1, "color": "rgba(255,255,255,0)"}]}}},
            {"transform": [{"filter": "datum.b === 'G'"}], "mark": {"type": "bar", "size": 18, "cornerRadius": 9, "color": "#F6A01A"}},
            {"transform": [{"filter": "datum.b === 'G'"}], "mark": {"type": "bar", "size": 6, "color": {"gradient": "linear", "x1": 0, "y1": 0, "x2": 0, "y2": 1, "stops": [{"offset": 0, "color": "rgba(255,255,255,0)"}, {"offset": 0.14, "color": "rgba(255,255,255,0)"}, {"offset": 0.14, "color": "#FFFFFF"}, {"offset": 0.86, "color": "#FFFFFF"}, {"offset": 0.86, "color": "rgba(255,255,255,0)"}, {"offset": 1, "color": "rgba(255,255,255,0)"}]}}},
            {"transform": [{"filter": "datum.b === 'G'"}], "mark": {"type": "bar", "size": 9, "xOffset": 4.5, "color": {"gradient": "linear", "x1": 0, "y1": 0, "x2": 0, "y2": 1, "stops": [{"offset": 0, "color": "rgba(255,255,255,0)"}, {"offset": 0.12, "color": "rgba(255,255,255,0)"}, {"offset": 0.12, "color": "#FFFFFF"}, {"offset": 0.5, "color": "#FFFFFF"}, {"offset": 0.5, "color": "rgba(255,255,255,0)"}, {"offset": 1, "color": "rgba(255,255,255,0)"}]}}},
            {"transform": [{"filter": "datum.b === 'G'"}], "mark": {"type": "bar", "size": 9, "xOffset": 4.5, "color": {"gradient": "linear", "x1": 0, "y1": 0, "x2": 0, "y2": 1, "stops": [{"offset": 0, "color": "rgba(255,255,255,0)"}, {"offset": 0.5, "color": "rgba(255,255,255,0)"}, {"offset": 0.5, "color": "#F6A01A"}, {"offset": 0.62, "color": "#F6A01A"}, {"offset": 0.62, "color": "rgba(255,255,255,0)"}, {"offset": 1, "color": "rgba(255,255,255,0)"}]}}}
          ]
        },
        {
          "data": {"name": "err"},
          "transform": [{"filter": "datum.p === 'C'"}],
          "encoding": {"x": {"field": "pos", "type": "quantitative", "title": "WebLogo 3.3"}},
          "layer": [
            {"mark": {"type": "rule", "color": "#B0B0B0", "strokeWidth": 1.3}, "encoding": {"y": {"field": "lo", "type": "quantitative", "title": "bits"}, "y2": {"field": "hi"}}},
            {"mark": {"type": "tick", "orient": "horizontal", "color": "#B0B0B0", "size": 6, "thickness": 1.3}, "encoding": {"y": {"field": "hi", "type": "quantitative", "title": "bits"}}},
            {"mark": {"type": "tick", "orient": "horizontal", "color": "#B0B0B0", "size": 6, "thickness": 1.3}, "encoding": {"y": {"field": "lo", "type": "quantitative", "title": "bits"}}}
          ]
        }
      ]
    }
  ],
  "columns": 1,
  "align": "none",
  "spacing": 6
}
